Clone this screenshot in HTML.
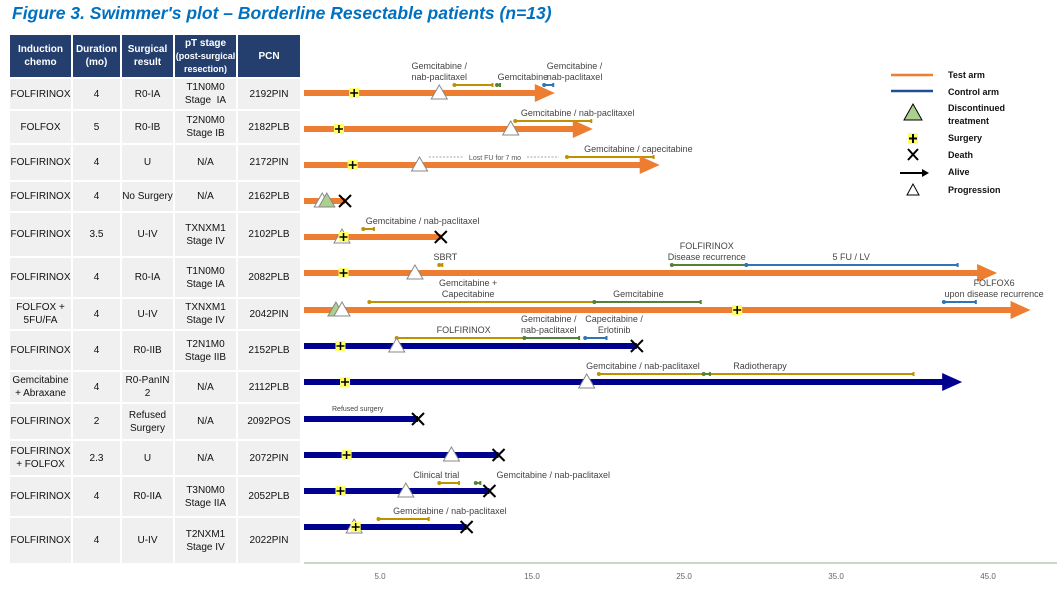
<!DOCTYPE html>
<html><head><meta charset="utf-8">
<style>
body{margin:0;background:#fff;width:1057px;height:590px;overflow:hidden;position:relative;font-family:"Liberation Sans",sans-serif;}
#title{position:absolute;left:12px;top:3px;font-size:17.5px;font-weight:bold;font-style:italic;color:#0070C0;white-space:nowrap;}
table{position:absolute;left:8px;top:33px;border-collapse:collapse;font-size:10px;color:#111;}
td,th{border:2px solid #fff;text-align:center;padding:0;line-height:13px;}
th{background:#243F6E;color:#fff;font-weight:bold;height:40px;}
td{background:#F0F0F0;}
svg{position:absolute;left:0;top:0;}
</style></head><body>
<div id="title">Figure 3. Swimmer's plot – Borderline Resectable patients (n=13)</div>
<table>
<tr style="height:44px"><th style="width:61px">Induction<br>chemo</th><th style="width:47px">Duration<br>(mo)</th><th style="width:51px">Surgical<br>result</th><th style="width:61px"><span>pT stage</span><br><span style="font-size:9px">(post-surgical<br>resection)</span></th><th style="width:62px">PCN</th></tr>
<tr style="height:32px"><td>FOLFIRINOX</td><td>4</td><td>R0-IA</td><td>T1N0M0<br>Stage &nbsp;IA</td><td>2192PIN</td></tr>
<tr style="height:34px"><td>FOLFOX</td><td>5</td><td>R0-IB</td><td>T2N0M0<br>Stage IB</td><td>2182PLB</td></tr>
<tr style="height:37px"><td>FOLFIRINOX</td><td>4</td><td>U</td><td>N/A</td><td>2172PIN</td></tr>
<tr style="height:31px"><td>FOLFIRINOX</td><td>4</td><td>No Surgery</td><td>N/A</td><td>2162PLB</td></tr>
<tr style="height:45px"><td>FOLFIRINOX</td><td>3.5</td><td>U-IV</td><td>TXNXM1<br>Stage IV</td><td>2102PLB</td></tr>
<tr style="height:41px"><td>FOLFIRINOX</td><td>4</td><td>R0-IA</td><td>T1N0M0<br>Stage IA</td><td>2082PLB</td></tr>
<tr style="height:32px"><td>FOLFOX +<br>5FU/FA</td><td>4</td><td>U-IV</td><td>TXNXM1<br>Stage IV</td><td>2042PIN</td></tr>
<tr style="height:41px"><td>FOLFIRINOX</td><td>4</td><td>R0-IIB</td><td>T2N1M0<br>Stage IIB</td><td>2152PLB</td></tr>
<tr style="height:32px"><td>Gemcitabine<br>+ Abraxane</td><td>4</td><td>R0-PanIN 2</td><td>N/A</td><td>2112PLB</td></tr>
<tr style="height:37px"><td>FOLFIRINOX</td><td>2</td><td>Refused<br>Surgery</td><td>N/A</td><td>2092POS</td></tr>
<tr style="height:36px"><td>FOLFIRINOX<br>+ FOLFOX</td><td>2.3</td><td>U</td><td>N/A</td><td>2072PIN</td></tr>
<tr style="height:41px"><td>FOLFIRINOX</td><td>4</td><td>R0-IIA</td><td>T3N0M0<br>Stage IIA</td><td>2052PLB</td></tr>
<tr style="height:47px"><td>FOLFIRINOX</td><td>4</td><td>U-IV</td><td>T2NXM1<br>Stage IV</td><td>2022PIN</td></tr>
</table>
<svg id="chart" width="1057" height="590" font-family="Liberation Sans, sans-serif"></svg>
<script>
// ---- data (months) ----
const patients = ["2192PIN","2182PLB","2172PIN","2162PLB","2102PLB","2082PLB","2042PIN","2152PLB","2112PLB","2092POS","2072PIN","2052PLB","2022PIN"];
const arm = ["test","test","test","test","test","test","test","control","control","control","control","control","control"];
const duration = [16.5,19.0,23.4,2.7,9.0,45.6,47.8,21.9,43.3,7.5,12.8,12.2,10.7];
const alive = [true,true,true,false,false,true,true,false,true,false,false,false,false];
const surgery = [3.3,2.3,3.2,null,2.6,2.6,28.5,2.4,2.7,null,2.8,2.4,3.4];
const progression = [8.9,13.6,7.6,1.2,2.5,7.3,2.5,6.1,18.6,null,9.7,6.7,3.3];
const discontinued = [null,null,null,1.5,null,null,2.1,null,null,null,null,null,null];
// treatments: [row, start, end, type]
const treatments = [
 [0,9.9,12.4,"gold"],[0,12.7,12.9,"green"],[0,15.8,16.4,"blue"],
 [1,13.9,18.9,"gold"],
 [2,17.3,23.0,"gold"],
 [4,3.9,4.6,"gold"],
 [5,8.9,9.1,"gold"],[5,24.2,29.1,"green"],[5,29.1,43.0,"blue"],
 [6,4.3,19.1,"gold"],[6,19.1,26.1,"green"],[6,42.1,44.2,"blue"],
 [7,6.1,14.5,"gold"],[7,14.5,18.1,"green"],[7,18.5,19.9,"blue"],
 [8,19.4,40.1,"gold"],[8,26.3,26.7,"green"],
 [11,8.9,10.2,"gold"],[11,11.3,11.6,"green"],
 [12,4.9,8.2,"gold"]
];
// annotations: [row, x(month), line1, line2]
const notes = [
 [0,8.9,"Gemcitabine /","nab-paclitaxel"],[0,14.4,"","Gemcitabine"],[0,17.8,"Gemcitabine /","nab-paclitaxel"],
 [1,18.0,"","Gemcitabine / nab-paclitaxel"],
 [2,22.0,"","Gemcitabine / capecitabine"],
 [4,7.8,"","Gemcitabine / nab-paclitaxel"],
 [5,9.3,"","SBRT"],[5,26.5,"FOLFIRINOX","Disease recurrence"],[5,36.0,"","5 FU / LV"],
 [6,10.8,"Gemcitabine +","Capecitabine"],[6,22.0,"","Gemcitabine"],[6,45.4,"FOLFOX6","upon disease recurrence"],
 [7,10.5,"","FOLFIRINOX"],[7,16.1,"Gemcitabine /","nab-paclitaxel"],[7,20.4,"Capecitabine /","Erlotinib"],
 [8,22.3,"","Gemcitabine / nab-paclitaxel"],[8,30.0,"","Radiotherapy"],
 [11,8.7,"","Clinical trial"],[11,16.4,"","Gemcitabine / nab-paclitaxel"],
 [12,9.6,"","Gemcitabine / nab-paclitaxel"]
];
const tickValues = [5,15,25,35,45];
const tickLabels = ["5.0","15.0","25.0","35.0","45.0"];

// ---- scales ----
const x0 = 304, pxPerMonth = 15.2;
function xs(v){return x0 + v*pxPerMonth;}
const rowY = [93,129,165,201,237,273,310,346,382,419,455,491,527];
function ys(i){return rowY[i];}
const colors = {test:"#ED7D31",control:"#00008F",gold:"#BF9000",green:"#548235",blue:"#2E75B6"};
const svg = document.getElementById('chart');
const NS = "http://www.w3.org/2000/svg";
function mk(tag, attrs, parent){const e=document.createElementNS(NS,tag);for(const k in attrs)e.setAttribute(k,attrs[k]);(parent||svg).appendChild(e);return e;}

// axis
const axis = mk('line',{x1:x0,y1:563,x2:1057,y2:563,stroke:"#A9C4A0","stroke-width":1.2});


tickValues.forEach((v,i)=>{
  const t = mk('text',{x:xs(v),y:579,"font-size":8,fill:"#666","text-anchor":"middle"});
  t.textContent = tickLabels[i];
  
  
});

function tri(x,y,fill,name){
  const p = mk('polygon',{points:`${x},${y-8} ${x-8},${y+6} ${x+8},${y+6}`,fill:fill,stroke:"#888","stroke-width":1});
  
  
}
function cross(x,y,name){
  const g = mk('g',{stroke:"#000","stroke-width":2});
  mk('line',{x1:x-6,y1:y-6,x2:x+6,y2:y+6},g);mk('line',{x1:x-6,y1:y+6,x2:x+6,y2:y-6},g);
  
  
}
function surg(x,y){
  const g = mk('g',{});
  mk('rect',{x:x-5,y:y-5,width:10,height:10,fill:"#FFFF66"},g);
  mk('path',{d:`M${x-4} ${y}H${x+4}M${x} ${y-4}V${y+4}`,stroke:"#000","stroke-width":1.5},g);
  
  
}

// treatments
treatments.forEach(t=>{
  const y = ys(t[0])-8, c = colors[t[3]];
  const g = mk('g',{});
  mk('line',{x1:xs(t[1]),y1:y,x2:xs(t[2]),y2:y,stroke:c,"stroke-width":2},g);
  mk('circle',{cx:xs(t[1]),cy:y,r:2,fill:c},g);
  mk('rect',{x:xs(t[2])-1,y:y-2,width:2,height:4,fill:c},g);
  
  
});
// lost FU
const lf = mk('line',{x1:429,y1:ys(2)-8,x2:559,y2:ys(2)-8,stroke:"#888","stroke-width":0.8,"stroke-dasharray":"2,1.5"});


const lft = mk('rect',{x:464,y:ys(2)-13,width:62,height:10,fill:"#fff"});
const lftx = mk('text',{x:495,y:ys(2)-5,"font-size":7,fill:"#555","text-anchor":"middle"});
lftx.textContent = "Lost FU for 7 mo";



// bars
patients.forEach((p,i)=>{
  const y = ys(i), c = colors[arm[i]], end = xs(duration[i]);
  const g = mk('g',{});
  if(alive[i]){
    mk('rect',{x:x0,y:y-3,width:end-18-x0,height:6,fill:c},g);
    mk('polygon',{points:`${end-20},${y-9} ${end},${y} ${end-20},${y+9}`,fill:c},g);
  } else {
    mk('rect',{x:x0,y:y-3,width:end-x0,height:6,fill:c},g);
  }
  
  
  if(!alive[i]) cross(end,y,'death-marker');
  if(discontinued[i]!==null && progression[i]!==null && progression[i]<discontinued[i]) tri(xs(progression[i]),y,"#fff",'progression-marker');
  if(discontinued[i]!==null) tri(xs(discontinued[i]),y,"#A9D08E",'discontinued-marker');
  if(progression[i]!==null && !(discontinued[i]!==null && progression[i]<discontinued[i])) tri(xs(progression[i]),y,"#fff",'progression-marker');
  if(surgery[i]!==null) surg(xs(surgery[i]),y);
});
const rs = mk('text',{x:332,y:ys(9)-8,"font-size":7,fill:"#444"});
rs.textContent = "Refused surgery";



// notes
notes.forEach(n=>{
  const y = ys(n[0]);
  const t = mk('text',{x:xs(n[1]),"font-size":9,fill:"#444","text-anchor":"middle"});
  if(n[2]){const a=mk('tspan',{x:xs(n[1]),y:y-24},t);a.textContent=n[2];}
  const b=mk('tspan',{x:xs(n[1]),y:y-13},t);b.textContent=n[3];
  
  
});

// legend
const lg = mk('g',{"font-size":9,"font-weight":"bold",fill:"#111"});


mk('line',{x1:891,y1:75,x2:933,y2:75,stroke:colors.test,"stroke-width":2.5},lg);
mk('line',{x1:891,y1:91,x2:933,y2:91,stroke:"#1F4E9A","stroke-width":2.5},lg);
mk('polygon',{points:"913,104 904,120 922,120",fill:"#A9D08E",stroke:"#000","stroke-width":1},lg);
mk('rect',{x:908,y:133,width:10,height:11,fill:"#FFFF66"},lg);
mk('path',{d:"M909 138.5H917M913 134V143",stroke:"#000","stroke-width":2},lg);
mk('path',{d:"M908 149L918 160M908 160L918 149",stroke:"#000","stroke-width":2},lg);
mk('line',{x1:900,y1:173,x2:926,y2:173,stroke:"#000","stroke-width":2},lg);
mk('polygon',{points:"922,169 929,173 922,177",fill:"#000"},lg);
mk('polygon',{points:"913,184 907,195 919,195",fill:"#fff",stroke:"#000","stroke-width":1},lg);
[["Test arm",78],["Control arm",95],["Discontinued",111],["treatment",124],["Surgery",141],["Death",158],["Alive",175],["Progression",193]].forEach(a=>{
  const t=mk('text',{x:948,y:a[1]},lg);t.textContent=a[0];
});
</script>
</body></html>
